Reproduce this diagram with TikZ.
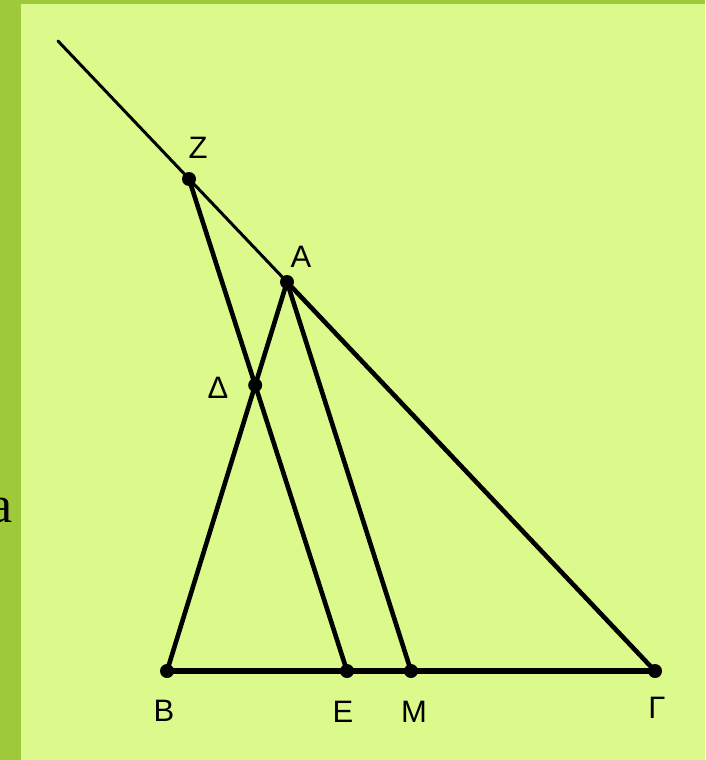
\documentclass[tikz,border=0pt]{standalone}
\usepackage{fontspec}
\setmainfont{Liberation Sans}
\newfontfamily\serifa{Liberation Serif}
\usetikzlibrary{calc,intersections}
\definecolor{stripgreen}{RGB}{158,201,59}
\definecolor{paper}{RGB}{220,250,140}
\begin{document}
\begin{tikzpicture}[x=1pt,y=-1pt,
  lbl/.style={inner sep=0pt,font=\fontsize{31}{31}\selectfont},
  thin line/.style={line width=3pt,line cap=round},
  mid line/.style={line width=4.6pt,line cap=round},
  base line/.style={line width=6.5pt,line cap=round},
  pt/.style={circle,fill=black,inner sep=0pt,minimum size=14pt}]
\useasboundingbox (0,0) rectangle (705,760);
\fill[paper] (0,0) rectangle (705,760);
\fill[stripgreen] (0,0) rectangle (21,760);
\fill[stripgreen] (0,0) rectangle (705,4);
\begin{scope}
\clip (0,0) rectangle (21,760);
\node[anchor=base east,inner sep=0pt,font=\serifa\fontsize{52}{52}\selectfont] (aa) at (13,522) {a};
\end{scope}
% points
\coordinate (S) at (58,41);
\coordinate (Zp) at (189,179);
\coordinate (Ap) at (287,282);
\coordinate (Bp) at (167,671);
\coordinate (Ep) at (347,671);
\coordinate (Mp) at (411,671);
\coordinate (Gp) at (655,671);
\path[name path=BA] (Bp) -- (Ap);
\path[name path=ZE] (Zp) -- (Ep);
\path[name intersections={of=BA and ZE,by=Dp}];
% lines
\draw[thin line] (S) -- (Ap);
\draw[mid line] (Ap) -- (Gp);
\draw[mid line] (Bp) -- (Ap);
\draw[mid line] (Ap) -- (Mp);
\draw[mid line] (Zp) -- (Ep);
\draw[base line] (Bp) -- (Gp);
% dots
\foreach \p in {Zp,Ap,Dp,Bp,Ep,Mp,Gp} \node[pt] at (\p) {};
% labels
\node[lbl] (Zl) at (198,148) {Ζ};
\node[lbl] (Al) at (301,257) {Α};
\node[lbl] (Dl) at (218,388) {Δ};
\node[lbl] (Bl) at (164,711) {Β};
\node[lbl] (El) at (343,712) {Ε};
\node[lbl] (Ml) at (414,712) {Μ};
\node[lbl] (Gl) at (657,708) {Γ};
\end{tikzpicture}
\end{document}
